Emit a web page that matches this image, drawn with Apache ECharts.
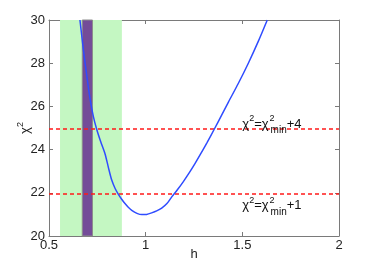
<!DOCTYPE html>
<html><head><meta charset="utf-8">
<script src="https://cdn.jsdelivr.net/npm/echarts@6/dist/echarts.min.js"></script>
<style>html,body{margin:0;padding:0;background:#fff}#c{width:374px;height:266px}</style>
</head><body><div id="c"></div>
<script>
var hValues = [0.66, 0.677, 0.695, 0.712, 0.729, 0.747, 0.768, 0.79, 0.807, 0.824, 0.842, 0.859, 0.876, 0.893, 0.91, 0.928, 0.955, 0.98, 1.005, 1.031, 1.057, 1.083, 1.11, 1.135, 1.165, 1.195, 1.225, 1.255, 1.285, 1.316, 1.354, 1.393, 1.428, 1.479, 1.531, 1.583, 1.629];
var chi2Values = [30, 28.69, 27.45, 26.37, 25.55, 24.93, 24.35, 23.8, 23.18, 22.6, 22.2, 21.93, 21.7, 21.5, 21.33, 21.19, 21.05, 20.99, 21.0, 21.07, 21.16, 21.29, 21.5, 21.81, 22.15, 22.52, 22.92, 23.35, 23.81, 24.3, 24.93, 25.6, 26.2, 27.06, 28.0, 29.02, 30];
var greenBand = [0.557, 0.877];
var purpleBand = [0.672, 0.725];
var levels = [24.95, 21.95];
var levelLabels = ['+4', '+1'];
var xTicks = ['0.5', '1', '1.5', '2'];
var yTicks = ['20', '22', '24', '26', '28', '30'];

var font = 'Liberation Sans, Arial, sans-serif';
var axisColor = '#7a7a7a';
var chart = echarts.init(document.getElementById('c'), null, {renderer: 'canvas'});

var curve = hValues.map(function (h, i) { return [h, chi2Values[i]]; });

function annotRich() {
  return {
    t: {fontSize: 13, fontFamily: font, color: '#111', lineHeight: 22, verticalAlign: 'middle'},
    s: {fontSize: 9, fontFamily: font, color: '#111', lineHeight: 22, verticalAlign: 'top', padding: [1, 0, 0, 0]},
    s0: {fontSize: 9, fontFamily: font, color: '#111', lineHeight: 22, verticalAlign: 'top', width: 1, padding: [1, 0, 0, 1]},
    b: {fontSize: 10, fontFamily: font, color: '#111', lineHeight: 22, verticalAlign: 'bottom'}
  };
}

var option = {
  animation: false,
  backgroundColor: '#fff',
  grid: {left: 49, right: 35, top: 20, bottom: 30, show: false, containLabel: false, outerBoundsMode: 'none'},
  xAxis: [{
    type: 'value', min: 0.5, max: 2, interval: 0.5,
    name: 'h', nameLocation: 'middle', nameGap: 12, nameMoveOverlap: false,
    nameTextStyle: {fontSize: 13, fontFamily: font, color: '#222'},
    axisLine: {lineStyle: {color: axisColor, width: 1}},
    axisTick: {inside: true, length: 4, lineStyle: {color: axisColor}},
    axisLabel: {fontSize: 13, fontFamily: font, color: '#222', margin: 3,
      formatter: function (v) { return xTicks[Math.round((v - 0.5) / 0.5)]; }},
    splitLine: {show: false}
  }, {
    type: 'value', min: 0.5, max: 2, interval: 0.5, position: 'top',
    axisLine: {lineStyle: {color: axisColor, width: 1}},
    axisTick: {inside: true, length: 4, lineStyle: {color: axisColor}},
    axisLabel: {show: false}, splitLine: {show: false}
  }],
  yAxis: [{
    type: 'value', min: 20, max: 30, interval: 2,
    name: '{t|χ}{s|2}', nameLocation: 'middle', nameGap: 15, nameRotate: 90, nameMoveOverlap: false,
    nameTextStyle: {rich: {
      t: {fontSize: 13, fontFamily: font, color: '#222', lineHeight: 18, verticalAlign: 'middle'},
      s: {fontSize: 9, fontFamily: font, color: '#222', lineHeight: 18, verticalAlign: 'top'}
    }},
    axisLine: {lineStyle: {color: axisColor, width: 1}},
    axisTick: {inside: true, length: 4, lineStyle: {color: axisColor}},
    axisLabel: {fontSize: 13, fontFamily: font, color: '#222', margin: 4,
      formatter: function (v) { return yTicks[Math.round((v - 20) / 2)]; }},
    splitLine: {show: false}
  }, {
    type: 'value', min: 20, max: 30, interval: 2, position: 'right',
    axisLine: {lineStyle: {color: axisColor, width: 1}},
    axisTick: {inside: true, length: 4, lineStyle: {color: axisColor}},
    axisLabel: {show: false}, splitLine: {show: false}
  }],
  series: [{
    type: 'line', data: [], silent: true, z: 0,
    markArea: {
      silent: true,
      data: [
        [{xAxis: greenBand[0], itemStyle: {color: '#c4f7c2'}}, {xAxis: greenBand[1]}],
        [{xAxis: purpleBand[0], itemStyle: {color: '#744c98', borderColor: '#8c8c8c', borderWidth: 1}}, {xAxis: purpleBand[1]}]
      ]
    }
  }, {
    type: 'line', data: curve, smooth: 0.25, showSymbol: false, silent: true, z: 5,
    lineStyle: {color: '#2f4cff', width: 1.5}, clip: true,
    markLine: {
      silent: true, symbol: 'none',
      lineStyle: {color: '#ff1a1a', type: [4, 3], width: 1.5},
      label: {show: false},
      data: levels.map(function (v) { return {yAxis: v}; })
    },
    markPoint: {
      silent: true, symbol: 'circle', symbolSize: 0,
      data: [
        {coord: [1.5, levels[0]], label: {show: true, position: 'inside', align: 'left', verticalAlign: 'middle', offset: [0, -5],
          formatter: '{t|χ}{s|2}{t|=χ}{s0|2}{b|min}{t|' + levelLabels[0] + '}', rich: annotRich()}},
        {coord: [1.5, levels[1]], label: {show: true, position: 'inside', align: 'left', verticalAlign: 'middle', offset: [0, 12],
          formatter: '{t|χ}{s|2}{t|=χ}{s0|2}{b|min}{t|' + levelLabels[1] + '}', rich: annotRich()}}
      ]
    }
  }]
};
chart.setOption(option);
</script></body></html>
